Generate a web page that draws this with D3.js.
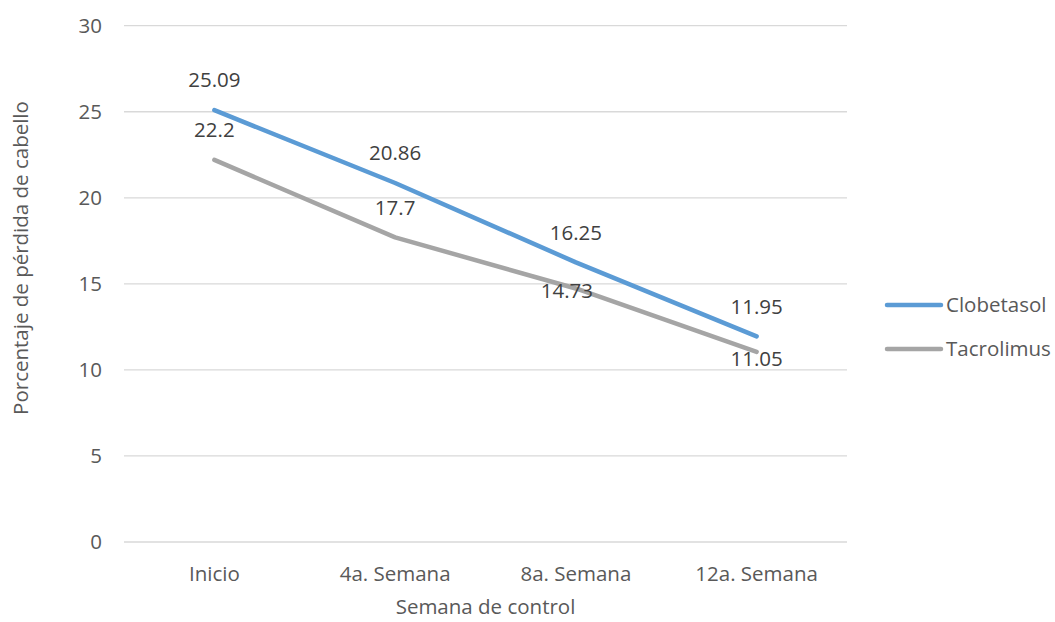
<!DOCTYPE html>
<html>
<head>
<meta charset="utf-8">
<script src="https://cdn.jsdelivr.net/npm/d3@7"></script>
<style>
  html, body { margin: 0; padding: 0; background: #fff; }
  svg { display: block; font-family: "Open Sans", sans-serif; }
</style>
</head>
<body>
<svg id="chart" width="1055" height="622"></svg>
<script>
const categories = ["Inicio", "4a. Semana", "8a. Semana", "12a. Semana"];
const seriesNames = ["Clobetasol", "Tacrolimus"];
const clobetasol = [25.09, 20.86, 16.25, 11.95];
const tacrolimus = [22.2, 17.7, 14.73, 11.05];
const yTicks = [0, 5, 10, 15, 20, 25, 30];
const xTitle = "Semana de control";
const yTitle = "Porcentaje de pérdida de cabello";

const colors = ["#5b9bd5", "#a5a5a5"];
const seriesValues = [clobetasol, tacrolimus];
// label offsets (px) relative to the point, per series/point
const labelDy = [[-30, -30, -30, -30], [-30, -30, 2, 7]];
const labelDx = [[0, 0, 0, 0], [0, 0, -9, 0]];
const fs = 20.5;

const svg = d3.select("#chart");
const plot = { left: 124, right: 847, top: 25.7, bottom: 542 };

const x = d3.scaleBand().domain(categories).range([plot.left, plot.right]);
const y = d3.scaleLinear().domain([0, 30]).range([plot.bottom, plot.top]);

// gridlines
svg.append("g").selectAll("line").data(yTicks).join("line")
  .attr("x1", plot.left).attr("x2", plot.right)
  .attr("y1", d => y(d)).attr("y2", d => y(d))
  .attr("stroke", "#d9d9d9").attr("stroke-width", 1.3);

// y tick labels
svg.append("g").selectAll("text").data(yTicks).join("text")
  .attr("x", 102).attr("y", d => y(d)).attr("dy", "0.35em")
  .attr("text-anchor", "end").attr("fill", "#595959")
  .attr("font-size", fs).text(d => d);

// x tick labels
svg.append("g").selectAll("text").data(categories).join("text")
  .attr("x", d => x(d) + x.bandwidth() / 2).attr("y", 574).attr("dy", "0.35em")
  .attr("text-anchor", "middle").attr("fill", "#595959")
  .attr("font-size", fs).text(d => d);

// axis titles
svg.append("text").attr("x", (plot.left + plot.right) / 2).attr("y", 607).attr("dy", "0.35em")
  .attr("text-anchor", "middle").attr("fill", "#595959").attr("font-size", fs).text(xTitle);
svg.append("text").attr("transform", "translate(21,258) rotate(-90)").attr("dy", "0.35em")
  .attr("text-anchor", "middle").attr("fill", "#595959").attr("font-size", fs).text(yTitle);

const line = d3.line()
  .x((d, i) => x(categories[i]) + x.bandwidth() / 2)
  .y(d => y(d));

// draw gray first so blue on top
[1, 0].forEach(s => {
  svg.append("path").datum(seriesValues[s])
    .attr("d", line).attr("fill", "none")
    .attr("stroke", colors[s]).attr("stroke-width", 4.5)
    .attr("stroke-linecap", "round").attr("stroke-linejoin", "round");
});

// data labels
seriesValues.forEach((vals, s) => {
  svg.append("g").selectAll("text").data(vals).join("text")
    .attr("x", (d, i) => x(categories[i]) + x.bandwidth() / 2 + labelDx[s][i])
    .attr("y", (d, i) => y(d) + labelDy[s][i]).attr("dy", "0.35em")
    .attr("text-anchor", "middle").attr("fill", "#404040")
    .attr("font-size", fs).text(d => d);
});

// legend
const legend = svg.append("g");
seriesNames.forEach((name, s) => {
  const ly = 305 + s * 44;
  legend.append("line").attr("x1", 887).attr("x2", 941).attr("y1", ly).attr("y2", ly)
    .attr("stroke", colors[s]).attr("stroke-width", 4.5).attr("stroke-linecap", "round");
  legend.append("text").attr("x", 946).attr("y", ly).attr("dy", "0.35em")
    .attr("fill", "#595959").attr("font-size", fs).text(name);
});
</script>
</body>
</html>
